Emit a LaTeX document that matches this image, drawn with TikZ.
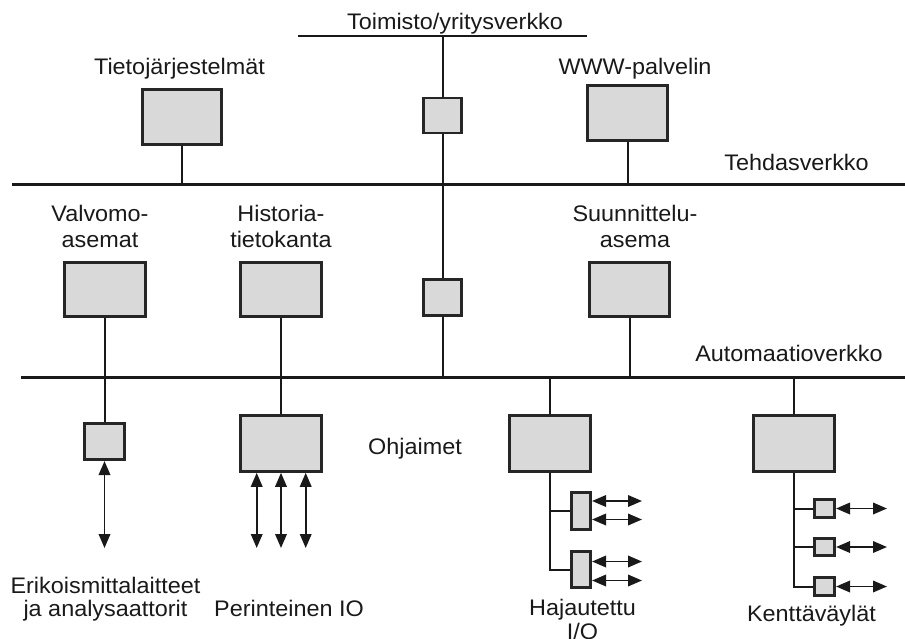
\documentclass[tikz,border=0pt]{standalone}
\usepackage{fontspec}
\setmainfont[FakeStretch=1.04]{Liberation Sans}
\usetikzlibrary{arrows.meta}
\begin{document}
\begin{tikzpicture}[x=1pt,y=-1pt,
  box/.style={draw=black!85,fill=black!15,line width=2.6pt,inner sep=0pt},
  bus/.style={line width=3pt,draw=black!90},
  wire/.style={line width=2pt,draw=black!90},
  dbl/.style={line width=1.9pt,draw=black!90,{Triangle[length=14pt,width=11.5pt]}-{Triangle[length=14pt,width=11.5pt]}},
  lbl/.style={font=\fontsize{22.5}{25}\selectfont,inner sep=0pt,anchor=base,text=black!90}]
\useasboundingbox (0,0) rectangle (905,638);
% buses
\coordinate (toL) at (298,36); \coordinate (toR) at (587,36);
\coordinate (thL) at (12,184); \coordinate (thR) at (905,184);
\coordinate (auL) at (21,377); \coordinate (auR) at (905,377);
\draw[bus,line width=2.4pt] (toL) -- (toR);
\draw[bus] (thL) -- (thR);
\draw[bus] (auL) -- (auR);
% boxes
\node[box,minimum width=79.5pt,minimum height=55.5pt] (tieto) at (182,117) {};
\node[box,minimum width=80.5pt,minimum height=55.5pt] (www) at (627.5,113) {};
\node[box,minimum width=38.5pt,minimum height=35pt] (r1) at (442.5,115.5) {};
\node[box,minimum width=81.5pt,minimum height=54.5pt] (valvo) at (105,289.5) {};
\node[box,minimum width=81.5pt,minimum height=54.5pt] (hist) at (281,289.5) {};
\node[box,minimum width=38.5pt,minimum height=36pt] (r2) at (442.5,297.5) {};
\node[box,minimum width=80.5pt,minimum height=54.5pt] (suun) at (629.5,289.5) {};
\node[box,minimum width=40.5pt,minimum height=36.5pt] (erik) at (104.5,441.5) {};
\node[box,minimum width=81.5pt,minimum height=56pt] (plc1) at (281,443.5) {};
\node[box,minimum width=81.5pt,minimum height=56pt] (plc2) at (550,443.5) {};
\node[box,minimum width=81.5pt,minimum height=56pt] (plc3) at (794,443.5) {};
\node[box,minimum width=19.5pt,minimum height=36.5pt] (io1) at (581,511) {};
\node[box,minimum width=19.5pt,minimum height=36.5pt] (io2) at (581,569.5) {};
\node[box,minimum width=20.5pt,minimum height=17.5pt] (fb1) at (824.5,508.5) {};
\node[box,minimum width=20.5pt,minimum height=17.5pt] (fb2) at (824.5,547) {};
\node[box,minimum width=20.5pt,minimum height=17.5pt] (fb3) at (824.5,586.5) {};
% central backbone
\draw[wire] (r1.north |- toL) -- (r1.north);
\draw[wire] (r1.south) -- (r2.north);
\draw[wire] (r2.south) -- (r2.south |- auL);
% connectors to Tehdasverkko
\draw[wire] (tieto.south) -- (tieto.south |- thL);
\draw[wire] (www.south) -- (www.south |- thL);
% connectors to Automaatioverkko
\draw[wire] (valvo.south) -- (valvo.south |- auL);
\draw[wire] (hist.south) -- (hist.south |- auL);
\draw[wire] (suun.south) -- (suun.south |- auL);
\draw[wire] (erik.north |- auL) -- (erik.north);
\draw[wire] (plc1.north |- auL) -- (plc1.north);
\draw[wire] (plc2.north |- auL) -- (plc2.north);
\draw[wire] (plc3.north |- auL) -- (plc3.north);
% special instruments
\coordinate (e1) at (104.5,548);
\draw[dbl] (erik.south) -- (e1);
% traditional IO
\coordinate (p1) at (256.7,548); \coordinate (p2) at (281,548); \coordinate (p3) at (305.7,548);
\draw[dbl] (p1 |- plc1.south) -- (p1);
\draw[dbl] (p2 |- plc1.south) -- (p2);
\draw[dbl] (p3 |- plc1.south) -- (p3);
% distributed IO
\draw[wire] (plc2.south) |- (io2.west);
\draw[wire] (io1.west -| plc2.south) -- (io1.west);
\coordinate (ia1) at (642,501); \coordinate (ia2) at (642,519.5);
\coordinate (ia3) at (642,561.5); \coordinate (ia4) at (642,580.5);
\draw[dbl] (io1.east |- ia1) -- (ia1);
\draw[dbl] (io1.east |- ia2) -- (ia2);
\draw[dbl] (io2.east |- ia3) -- (ia3);
\draw[dbl] (io2.east |- ia4) -- (ia4);
% fieldbus
\draw[wire] (plc3.south) |- (fb3.west);
\draw[wire] (fb1.west -| plc3.south) -- (fb1.west);
\draw[wire] (fb2.west -| plc3.south) -- (fb2.west);
\coordinate (fa1) at (887,508.5); \coordinate (fa2) at (887,547); \coordinate (fa3) at (887,586.5);
\draw[dbl] (fb1.east) -- (fa1);
\draw[dbl] (fb2.east) -- (fa2);
\draw[dbl] (fb3.east) -- (fa3);
% labels
\node[lbl] (tToim) at (455,29.5) {Toimisto/yritysverkko};
\node[lbl] (tTieto) at (179.5,74) {Tietojärjestelmät};
\node[lbl] (tWWW) at (635,74) {WWW-palvelin};
\node[lbl] (tTehd) at (796.5,170.5) {Tehdasverkko};
\node[lbl] (tVal1) at (100,221.5) {Valvomo-};
\node[lbl] (tVal2) at (100,247) {asemat};
\node[lbl] (tHis1) at (281,221.5) {Historia-};
\node[lbl] (tHis2) at (281,247) {tietokanta};
\node[lbl] (tSuu1) at (635,221.5) {Suunnittelu-};
\node[lbl] (tSuu2) at (635,247) {asema};
\node[lbl] (tAuto) at (789,361.5) {Automaatioverkko};
\node[lbl,anchor=base west] (tOhj) at (368,454) {Ohjaimet};
\node[lbl] (tEri1) at (105.5,593) {Erikoismittalaitteet};
\node[lbl] (tEri2) at (105.5,616.5) {ja analysaattorit};
\node[lbl] (tPer) at (289,616.5) {Perinteinen IO};
\node[lbl] (tHaj1) at (582.5,615) {Hajautettu};
\node[lbl] (tHaj2) at (582.5,639) {I/O};
\node[lbl] (tKen) at (811.5,621.5) {Kenttäväylät};
\end{tikzpicture}
\end{document}
